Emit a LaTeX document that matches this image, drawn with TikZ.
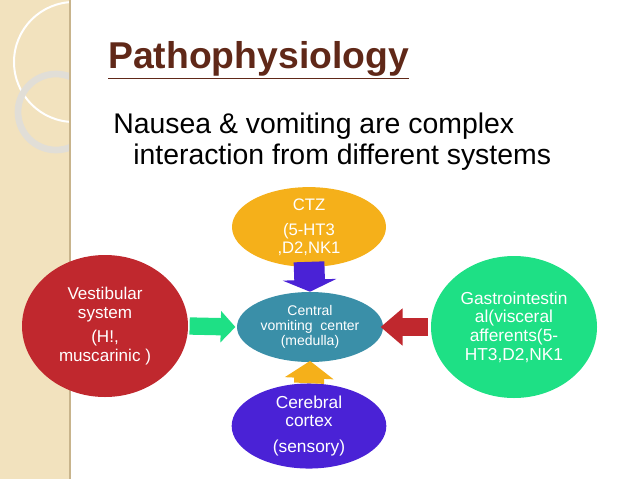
\documentclass[tikz,border=0pt]{standalone}
\usepackage{fontspec}
\setmainfont{Liberation Sans}
\usetikzlibrary{arrows.meta,positioning,shapes.geometric}
\definecolor{ctzorange}{RGB}{245,176,26}
\definecolor{cvcteal}{RGB}{58,143,168}
\definecolor{vestred}{RGB}{192,40,46}
\definecolor{gigreen}{RGB}{30,224,133}
\definecolor{cortexblue}{RGB}{74,34,214}
\definecolor{titlebrown}{RGB}{96,40,24}
\definecolor{stripbeige}{RGB}{242,226,190}
\tikzset{
  blob/.style={ellipse, fill=#1, text=white, align=center, inner sep=0pt},
}
\begin{document}
\begin{tikzpicture}[x=0.75pt,y=0.75pt,yscale=-1,xscale=1]
        \useasboundingbox (0,0) rectangle (638,479);
        %left strip
        \fill [stripbeige] (0,0) rectangle (70,479);
        \begin{scope}
          \clip (0,0) rectangle (70,479);
          \draw [white, line width=1.5] (74,62) circle [radius=60];
          \draw [color={rgb, 255:red, 225; green, 222; blue, 215 }, line width=5] (56,112) circle [radius=38];
        \end{scope}
        \draw [color={rgb, 255:red, 200; green, 180; blue, 140 }, line width=1.2] (70,0) -- (70,479);

        % Title and text
        \node (title) [anchor=west, inner sep=0pt, text=titlebrown, font=\bfseries\fontsize{28}{32}\selectfont] at (108,60) {\underline{Pathophysiology}};
        \node (line1) [anchor=west, inner sep=0pt, font=\fontsize{21.3}{25}\selectfont] at (113,126) {Nausea \& vomiting are complex};
        \node (line2) [anchor=west, inner sep=0pt, font=\fontsize{21.3}{25}\selectfont] at (133,157) {interaction from different systems};

        % Ellipses
        \node (ctz) [blob=ctzorange, minimum width=115.5pt, minimum height=52.5pt, font=\fontsize{12.5}{13.5}\selectfont] at (309,227) {CTZ\\[5pt](5-HT3\\,D2,NK1};
        \node (cvc) [blob=cvcteal, minimum width=109.5pt, minimum height=52.5pt, font=\fontsize{10.5}{11}\selectfont] at (310,327) {Central\\vomiting\ \ center\\(medulla)};
        \node (vest) [blob=vestred, minimum width=124.5pt, minimum height=106.5pt, font=\fontsize{12.8}{14}\selectfont] at (105,326) {Vestibular\\system\\[4pt](H!,\\muscarinic )};
        \node (gi) [blob=gigreen, minimum width=124.5pt, minimum height=106.5pt, font=\fontsize{13}{14}\selectfont] at (514,327) {Gastrointestin\\al(visceral\\afferents(5-\\HT3,D2,NK1};
        \node (cortex) [blob=cortexblue, minimum width=116pt, minimum height=54pt, font=\fontsize{13}{13.5}\selectfont] at (309,426) {Cerebral\\cortex\\[6pt](sensory)};

        % Arrows
        \draw [cortexblue, line width=23pt, -{Triangle[width=40pt,length=9pt]}] ([yshift=-4pt]ctz.south) -- (cvc.north);
        \draw [gigreen, line width=13pt, -{Triangle[width=23pt,length=11pt]}] ([xshift=1pt]vest.east) -- ([xshift=-1pt]cvc.west);
        \draw [vestred, line width=13pt, -{Triangle[width=27pt,length=16.5pt]}] ([xshift=-2pt]gi.west) -- ([xshift=-2pt]cvc.east);
        \draw [ctzorange, line width=22.5pt, -{Triangle[width=36pt,length=13pt]}] (cortex.north) -- ([yshift=-1pt]cvc.south);
\end{tikzpicture}
\end{document}
